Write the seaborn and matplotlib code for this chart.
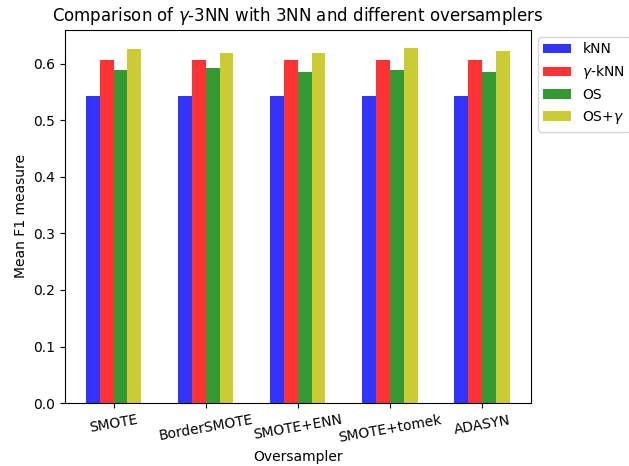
import pandas as pd
import matplotlib
matplotlib.use("Agg")
import matplotlib.pyplot as plt
import seaborn as sns

oversamplers = ["SMOTE", "BorderSMOTE", "SMOTE+ENN", "SMOTE+tomek", "ADASYN"]
methods = ["kNN", r"$\gamma$-kNN", "OS", r"OS+$\gamma$"]
knn = [0.543, 0.543, 0.543, 0.543, 0.543]
gamma_knn = [0.607, 0.607, 0.607, 0.607, 0.607]
os_vals = [0.589, 0.593, 0.586, 0.589, 0.586]
os_gamma = [0.626, 0.619, 0.619, 0.628, 0.623]

rows = []
for name, vals in zip(methods, [knn, gamma_knn, os_vals, os_gamma]):
    for o, v in zip(oversamplers, vals):
        rows.append({"Oversampler": o, "method": name, "f1": v})
df = pd.DataFrame(rows)

fig, ax = plt.subplots(figsize=(6.29, 4.66), dpi=100)
sns.barplot(data=df, x="Oversampler", y="f1", hue="method",
            palette=["b", "r", "g", "y"], saturation=1, alpha=0.8,
            width=0.6, ax=ax)
ax.set_xlabel("Oversampler")
ax.set_ylabel("Mean F1 measure")
ax.set_title(r"Comparison of $\gamma$-3NN with 3NN and different oversamplers")
ax.set_ylim(0, 0.66)
ax.set_xlim(-0.53, 4.53)
plt.setp(ax.get_xticklabels(), rotation=10)
ax.legend(loc="upper left", bbox_to_anchor=(1, 1))
fig.subplots_adjust(left=0.103, right=0.844, top=0.936, bottom=0.135)
fig.savefig("out.png")
